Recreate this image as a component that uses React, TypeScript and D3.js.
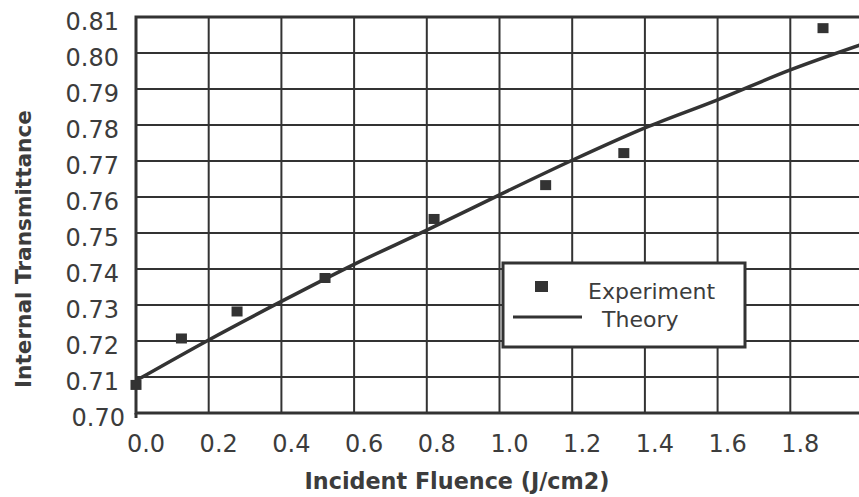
import React, { useEffect, useRef } from 'react';
import * as d3 from 'd3';

// Experiment points
const expFluence = [0.0, 0.125, 0.278, 0.52, 0.82, 1.127, 1.342, 1.89];
const expTransmittance = [0.7078, 0.7207, 0.7282, 0.7375, 0.7539, 0.7633, 0.7722, 0.8069];

// Theory curve
const theoryFluence = [0.0, 0.2, 0.4, 0.6, 0.8, 1.0, 1.2, 1.4, 1.6, 1.8, 2.0];
const theoryTransmittance = [0.709, 0.7203, 0.731, 0.7413, 0.7508, 0.7606, 0.7702, 0.7792, 0.787, 0.7953, 0.8025];

const xTicks = [0.0, 0.2, 0.4, 0.6, 0.8, 1.0, 1.2, 1.4, 1.6, 1.8];
const yTicks = [0.70, 0.71, 0.72, 0.73, 0.74, 0.75, 0.76, 0.77, 0.78, 0.79, 0.80, 0.81];

const legendLabels = ['Experiment', 'Theory'];

const width = 859;
const height = 497;

const InkColor = '#333';
const TextColor = '#3c3c3c';
const font = '"DejaVu Sans", Verdana, sans-serif';

const TransmittanceChart: React.FC = () => {
  const svgRef = useRef<SVGSVGElement>(null);

  useEffect(() => {
    const svg = d3.select(svgRef.current);
    svg.selectAll('*').remove();

    const left = 136, top = 17, bottom = 413, right = 863;

    const x = d3.scaleLinear().domain([0, 2]).range([left, right]);
    const y = d3.scaleLinear().domain([0.70, 0.81]).range([bottom, top]);

    svg.append('rect')
      .attr('width', width).attr('height', height).attr('fill', '#fff');

    // grid
    const grid = svg.append('g');
    grid.selectAll('.vgrid')
      .data(xTicks.slice(1))
      .enter()
      .append('line')
      .attr('x1', d => x(d)).attr('x2', d => x(d))
      .attr('y1', top).attr('y2', bottom)
      .attr('stroke', InkColor).attr('stroke-width', 2);

    grid.selectAll('.hgrid')
      .data(yTicks.slice(1, -1))
      .enter()
      .append('line')
      .attr('x1', left).attr('x2', right)
      .attr('y1', d => y(d)).attr('y2', d => y(d))
      .attr('stroke', InkColor).attr('stroke-width', 2);

    // frame
    svg.append('rect')
      .attr('x', left).attr('y', top)
      .attr('width', right - left).attr('height', bottom - top)
      .attr('fill', 'none')
      .attr('stroke', InkColor).attr('stroke-width', 3);
    svg.append('line')
      .attr('x1', left).attr('x2', left)
      .attr('y1', bottom).attr('y2', bottom + 5)
      .attr('stroke', InkColor).attr('stroke-width', 3);

    // tick labels
    svg.selectAll('.xlabel')
      .data(xTicks)
      .enter()
      .append('text')
      .attr('x', d => x(d) + 10)
      .attr('y', 452)
      .attr('text-anchor', 'middle')
      .style('font-family', font)
      .style('font-size', '24px')
      .style('fill', TextColor)
      .text(d => d.toFixed(1));

    svg.selectAll('.ylabel')
      .data(yTicks)
      .enter()
      .append('text')
      .attr('x', d => (d === 0.70 ? 125 : 119))
      .attr('y', d => y(d) + 13)
      .attr('text-anchor', 'end')
      .style('font-family', font)
      .style('font-size', '24px')
      .style('fill', TextColor)
      .text(d => d.toFixed(2));

    // axis titles
    svg.append('text')
      .attr('x', 457)
      .attr('y', 489)
      .attr('text-anchor', 'middle')
      .attr('textLength', 305)
      .attr('lengthAdjust', 'spacingAndGlyphs')
      .style('font-family', font)
      .style('font-size', '23px')
      .style('font-weight', 'bold')
      .style('fill', TextColor)
      .text('Incident Fluence (J/cm2)');

    svg.append('text')
      .attr('transform', 'translate(31,249) rotate(-90)')
      .attr('text-anchor', 'middle')
      .attr('textLength', 278)
      .attr('lengthAdjust', 'spacingAndGlyphs')
      .style('font-family', font)
      .style('font-size', '22px')
      .style('font-weight', 'bold')
      .style('fill', TextColor)
      .text('Internal Transmittance');

    // theory line
    const line = d3.line<number>()
      .x((d, i) => x(theoryFluence[i]))
      .y(d => y(d))
      .curve(d3.curveMonotoneX);

    svg.append('path')
      .datum(theoryTransmittance)
      .attr('d', line)
      .attr('fill', 'none')
      .attr('stroke', InkColor)
      .attr('stroke-width', 3.5);

    // experiment points
    svg.selectAll('.pt')
      .data(expTransmittance)
      .enter()
      .append('rect')
      .attr('x', (d, i) => x(expFluence[i]) - 5.5)
      .attr('y', d => y(d) - 5)
      .attr('width', 11)
      .attr('height', 10)
      .attr('fill', InkColor);

    // legend
    const legend = svg.append('g').attr('transform', 'translate(503,263)');
    legend.append('rect')
      .attr('width', 242).attr('height', 84)
      .attr('fill', '#fff')
      .attr('stroke', InkColor).attr('stroke-width', 3);
    legend.append('rect')
      .attr('x', 32).attr('y', 18).attr('width', 13).attr('height', 11)
      .attr('fill', InkColor);
    legend.append('line')
      .attr('x1', 10).attr('x2', 79).attr('y1', 54).attr('y2', 54)
      .attr('stroke', InkColor).attr('stroke-width', 3);
    legend.selectAll('.ltext')
      .data(legendLabels)
      .enter()
      .append('text')
      .attr('x', (d, i) => (i === 0 ? 85 : 99))
      .attr('y', (d, i) => (i === 0 ? 36 : 64))
      .style('font-family', font)
      .style('font-size', '22px')
      .style('fill', TextColor)
      .text(d => d);
  }, []);

  return (
    <svg
      ref={svgRef}
      width={width}
      height={height}
      style={{ position: 'absolute', left: 0, top: 0 }}
    />
  );
};

export default function App() {
  return <TransmittanceChart />;
}
